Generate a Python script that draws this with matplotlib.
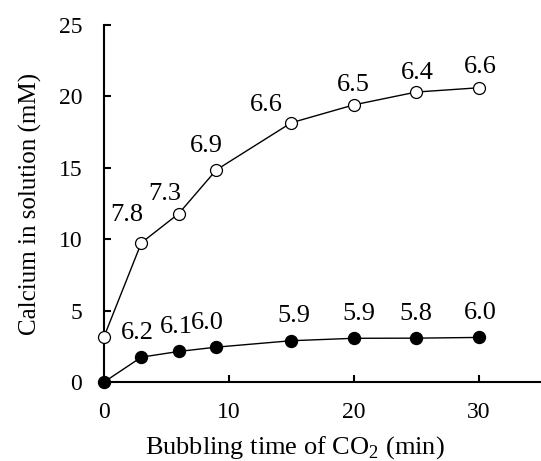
import matplotlib.pyplot as plt

plt.rcParams['font.family'] = ['Liberation Serif', 'DejaVu Serif']
plt.rcParams['mathtext.fontset'] = 'custom'
plt.rcParams['mathtext.rm'] = 'Liberation Serif'

# data
time = [0, 3, 6, 9, 15, 20, 25, 30]
open_ca = [3.15, 9.75, 11.8, 14.85, 18.15, 19.4, 20.3, 20.6]
filled_ca = [0.0, 1.75, 2.15, 2.45, 2.9, 3.07, 3.08, 3.13]
open_ph = [None, "7.8", "7.3", "6.9", "6.6", "6.5", "6.4", "6.6"]
filled_ph = [None, "6.2", "6.1", "6.0", "5.9", "5.9", "5.8", "6.0"]

# label offsets in pixels (dx, dy)
open_off = [None, (-15, 28), (-14, 20), (-10, 24), (-25, 18), (0, 20), (1, 19), (2, 21)]
filled_off = [None, (-4, 24), (-2, 24), (-9, 24), (3, 25), (5, 24), (0, 24), (2, 24)]

fig = plt.figure(figsize=(5.41, 4.61), dpi=100)
ax = fig.add_axes([0.192, 0.171, 0.808, 0.775])

ax.plot(time, open_ca, '-o', color='black', lw=1, mfc='white', mec='black',
        ms=8.6, mew=0.9, clip_on=False, zorder=3)
ax.plot(time, filled_ca, '-o', color='black', lw=1, mfc='black', mec='black',
        ms=8.6, clip_on=False, zorder=3)

for x, y, t, o in zip(time, open_ca, open_ph, open_off):
    if t:
        ax.annotate(t, (x, y), xytext=o, textcoords='offset pixels',
                    ha='center', va='center', fontsize=19)
for x, y, t, o in zip(time, filled_ca, filled_ph, filled_off):
    if t:
        ax.annotate(t, (x, y), xytext=o, textcoords='offset pixels',
                    ha='center', va='center', fontsize=19)

ax.set_xlim(0, 35)
ax.set_ylim(0, 25)
ax.set_xticks([0, 10, 20, 30])
ax.set_yticks([0, 5, 10, 15, 20, 25])
ax.spines['top'].set_visible(False)
ax.spines['right'].set_visible(False)
ax.spines['left'].set_linewidth(1.5)
ax.spines['bottom'].set_linewidth(1.5)
ax.tick_params(direction='in', length=5, width=1.5, labelsize=17)
ax.tick_params(axis='x', pad=14)
ax.tick_params(axis='y', pad=15.5)

ax.set_xlabel("Bubbling time of CO$_2$ (min)", fontsize=19, labelpad=8)
ax.set_ylabel("Calcium in solution (mM)", fontsize=18, labelpad=12)
ax.xaxis.label.set_x(0.437)

fig.savefig("out.png", dpi=100)
